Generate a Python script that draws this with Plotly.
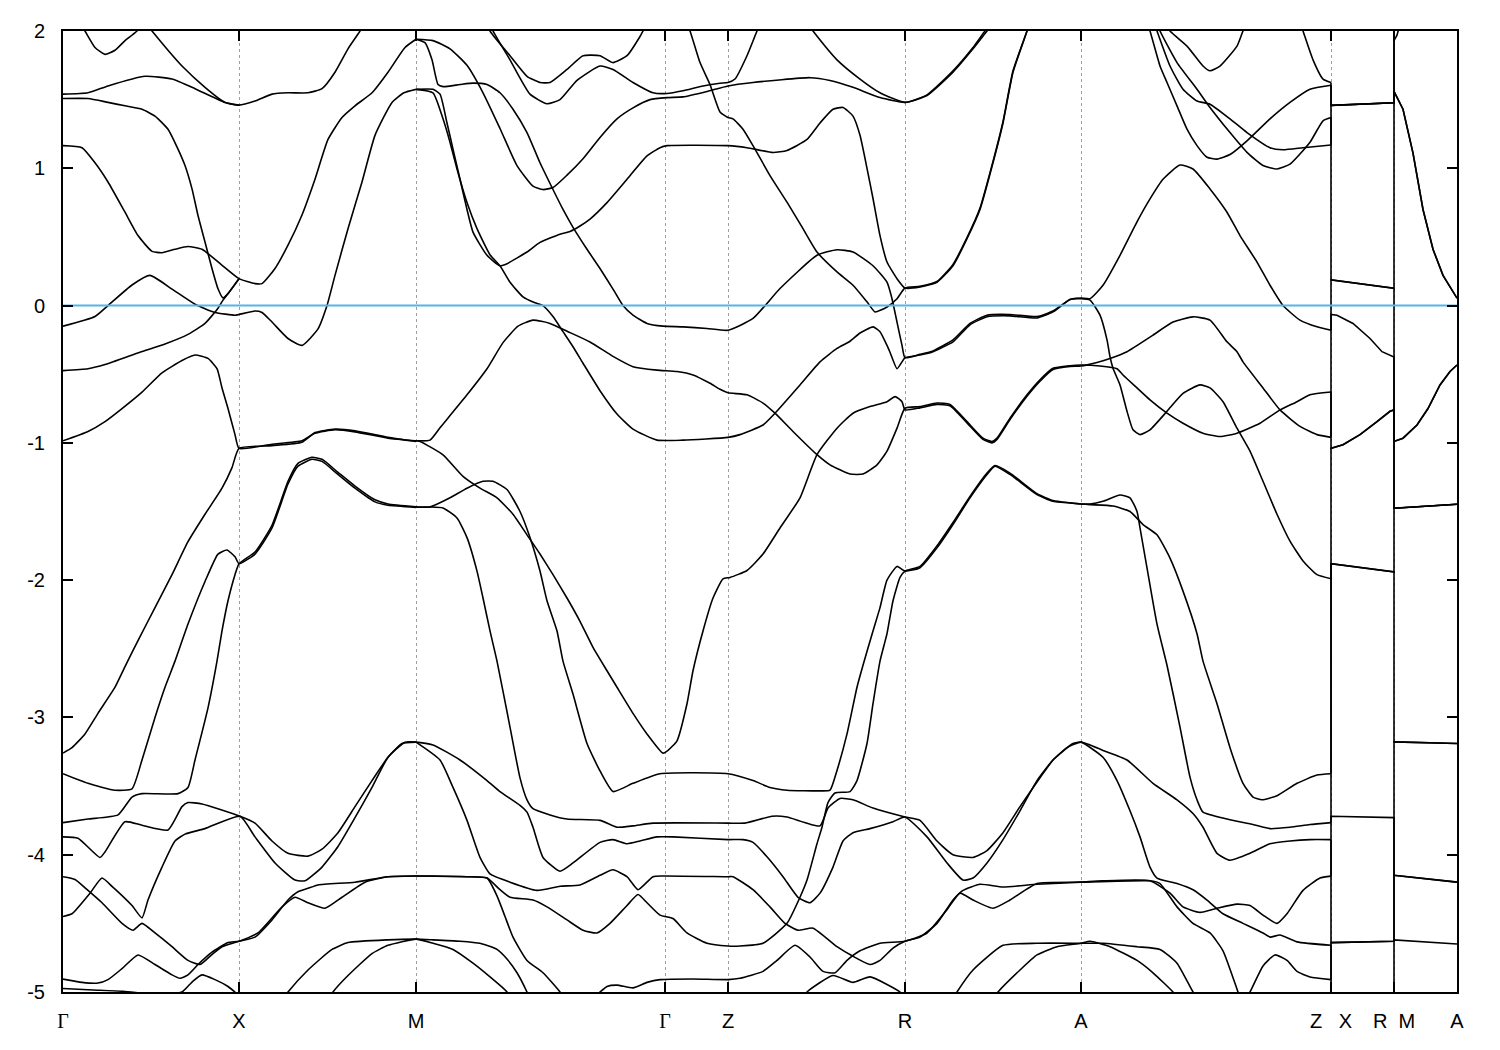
import plotly.graph_objects as go

# ---------------- k-path (path coordinate) and labels ----------------
GAMMA = "<span style='font-family:Liberation Serif, Times New Roman, serif'>Γ</span>"
k_ticks = [0, 176, 353, 602, 665, 842, 1018, 1268, 1331, 1394]
k_labels = [GAMMA, "X", "M", GAMMA, "Z", "R", "A", "Z\u00a0\u00a0\u00a0X", "R\u00a0\u00a0M", "A"]
e_ticks = [2, 1, 0, -1, -2, -3, -4, -5]
e_labels = ["2", "1", "0", "-1", "-2", "-3", "-4", "-5"]
e_fermi = 0.0

# ---------------- bands along Γ-X-M-Γ-Z-R-A-Z (k, E) ----------------
c01 = [(12,2.12),(22,2.0),(32,1.88),(42,1.83),(52,1.86),(62,1.93),(74,2.0),(84,2.1)]
c02 = [(80,2.08),(89,2.0),(105,1.86),(119,1.745),(142,1.59),(162,1.48),(176,1.46),(192,1.49),(209,1.54),(225,1.55),(245,1.55),(259,1.58),(272,1.70),(285,1.87),(297,2.0),(303,2.08)]
c03 = [(0,1.54),(25,1.55),(45,1.60),(82,1.67),(109,1.65),(132,1.58),(162,1.48),(176,1.46)]
c04 = [(0,1.508),(25,1.508),(45,1.48),(62,1.455),(79,1.43),(92,1.38),(105,1.285),(115,1.14),(122,1.02),(129,0.85),(135,0.656),(142,0.463),(149,0.27),(155,0.123),(160,0.056),(165,0.087),(176,0.196)]
c05 = [(0,1.165),(19,1.15),(32,1.04),(45,0.90),(62,0.68),(75,0.51),(89,0.395),(99,0.385),(112,0.41),(125,0.43),(139,0.41),(158,0.30),(176,0.196),(192,0.16),(199,0.16),(212,0.27),(225,0.44),(239,0.66),(252,0.92),(265,1.21),(279,1.37),(292,1.455),(309,1.55),(325,1.70),(342,1.88),(353,1.94)]
c06 = [(0,-0.15),(32,-0.08),(45,0.0),(69,0.15),(87,0.22),(109,0.12),(132,0.01),(152,-0.05),(172,-0.07),(176,-0.065),(192,-0.04),(199,-0.05),(209,-0.12),(225,-0.24),(239,-0.29),(255,-0.17),(264,0.0),(272,0.22),(285,0.56),(299,0.90),(312,1.24),(329,1.48),(341,1.55),(353,1.575)]
c07 = [(0,-0.474),(25,-0.46),(42,-0.43),(77,-0.34),(102,-0.28),(125,-0.21),(142,-0.13),(155,-0.02),(160,0.04),(165,0.087),(176,0.196)]
c08 = [(0,-0.985),(25,-0.917),(42,-0.845),(59,-0.75),(79,-0.63),(99,-0.49),(119,-0.40),(132,-0.36),(145,-0.385),(154,-0.46),(159,-0.60),(165,-0.75),(172,-0.94),(176,-1.04),(209,-1.01),(239,-0.985),(252,-0.93),(272,-0.905),(292,-0.92),(325,-0.966),(353,-0.985)]
c09 = [(0,-3.26),(9,-3.22),(22,-3.12),(35,-2.97),(52,-2.78),(62,-2.63),(75,-2.44),(92,-2.20),(109,-1.96),(125,-1.72),(142,-1.52),(159,-1.33),(169,-1.18),(176,-1.04),(209,-1.02),(239,-0.995),(252,-0.925),(272,-0.9),(292,-0.912),(325,-0.96),(353,-0.99)]
c10 = [(0,-3.41),(25,-3.48),(52,-3.53),(69,-3.52),(79,-3.31),(92,-3.0),(102,-2.78),(112,-2.59),(125,-2.32),(142,-2.01),(155,-1.81),(164,-1.78),(172,-1.83),(176,-1.88),(192,-1.81),(209,-1.62),(225,-1.30),(235,-1.17),(249,-1.12),(259,-1.135),(275,-1.23),(292,-1.33),(312,-1.43),(325,-1.455),(353,-1.47)]
c11 = [(0,-3.766),(25,-3.74),(55,-3.71),(69,-3.58),(79,-3.555),(115,-3.555),(125,-3.51),(132,-3.31),(145,-2.93),(154,-2.59),(159,-2.37),(165,-2.15),(172,-1.96),(176,-1.88),(192,-1.795),(209,-1.60),(225,-1.28),(235,-1.15),(249,-1.105),(259,-1.12),(275,-1.215),(292,-1.315),(312,-1.415),(325,-1.445),(353,-1.465)]
c12 = [(0,-3.87),(15,-3.88),(37,-4.02),(42,-3.98),(62,-3.76),(79,-3.785),(105,-3.82),(119,-3.65),(125,-3.62),(139,-3.63),(177,-3.72),(192,-3.77),(209,-3.90),(225,-3.99),(245,-4.01),(259,-3.96),(275,-3.84),(292,-3.65),(309,-3.46),(325,-3.29),(339,-3.19),(353,-3.18)]
c13 = [(0,-4.45),(9,-4.43),(27,-4.28),(39,-4.17),(49,-4.23),(69,-4.37),(79,-4.46),(85,-4.33),(99,-4.09),(112,-3.90),(122,-3.85),(142,-3.81),(177,-3.72),(192,-3.87),(212,-4.06),(232,-4.185),(242,-4.19),(259,-4.09),(275,-3.94),(292,-3.73),(309,-3.51),(325,-3.29),(342,-3.18),(353,-3.18)]
c14 = [(0,-4.16),(12,-4.18),(25,-4.26),(39,-4.35),(59,-4.50),(70,-4.55),(79,-4.50),(92,-4.57),(109,-4.67),(125,-4.77),(137,-4.80),(150,-4.72),(159,-4.67),(176,-4.63),(192,-4.60),(209,-4.475),(225,-4.33),(235,-4.27),(245,-4.245),(255,-4.22),(292,-4.20),(325,-4.16),(353,-4.155)]
c15 = [(0,-4.906),(19,-4.93),(35,-4.935),(45,-4.91),(59,-4.83),(75,-4.73),(92,-4.80),(109,-4.875),(117,-4.90),(125,-4.875),(135,-4.80),(149,-4.71),(165,-4.64),(176,-4.63),(195,-4.57),(219,-4.38),(232,-4.31),(245,-4.35),(262,-4.39),(279,-4.31),(302,-4.20),(325,-4.16),(353,-4.155)]
c16 = [(215,-5.1),(225,-5.0),(245,-4.84),(269,-4.69),(285,-4.64),(325,-4.62),(353,-4.615),(370,-4.62),(397,-4.63),(417,-4.645),(434,-4.69),(444,-4.76),(454,-4.86),(464,-5.0),(470,-5.1)]
c17 = [(262,-5.1),(270,-5.0),(285,-4.88),(309,-4.72),(325,-4.66),(353,-4.615),(370,-4.645),(390,-4.69),(410,-4.79),(427,-4.89),(444,-5.0),(450,-5.1)]
c18 = [(0,-4.975),(30,-4.985),(60,-4.995),(100,-5.02),(119,-5.0),(130,-4.92),(139,-4.875),(152,-4.91),(165,-4.96),(175,-5.02)]
c40 = [(353,-4.155),(404,-4.16),(424,-4.17),(434,-4.30),(442,-4.45),(450,-4.6),(464,-4.77),(480,-4.86),(497,-5.0),(505,-5.1)]

c19 = [(353,1.94),(362,1.915),(369,1.79),(375,1.61),(380,1.595),(397,1.61),(410,1.62),(424,1.61),(437,1.55),(450,1.43),(464,1.26),(477,1.04),(489,0.86),(500,0.70),(510,0.57),(524,0.41),(537,0.27),(550,0.12),(560,0.0),(570,-0.07),(584,-0.13),(600,-0.15),(620,-0.155),(644,-0.167),(665,-0.18),
       (690,-0.094),(717,0.124),(754,0.366),(774,0.407),(790,0.39),(810,0.29),(824,0.17),(829,0.05),(834,-0.12),(839,-0.29),(842,-0.38),
       (857,-0.355),(870,-0.33),(890,-0.25),(907,-0.13),(924,-0.07),(947,-0.065),(974,-0.08),(990,-0.04),(1007,0.045),(1018,0.05),
       (1027,0.04),(1037,-0.07),(1044,-0.25),(1047,-0.372),(1050,-0.457),(1057,-0.578),(1064,-0.77),(1070,-0.905),(1077,-0.94),(1087,-0.905),(1104,-0.77),(1120,-0.64),(1137,-0.578),(1147,-0.60),(1160,-0.70),(1174,-0.893),(1187,-1.06),(1200,-1.28),(1214,-1.52),(1227,-1.716),(1240,-1.86),(1254,-1.96),(1268,-1.99)]
c20 = [(353,1.94),(370,1.93),(387,1.87),(404,1.75),(420,1.55),(437,1.29),(454,1.02),(470,0.87),(480,0.845),(490,0.86),(504,0.95),(520,1.07),(537,1.225),(554,1.36),(570,1.44),(587,1.50),(604,1.515),(620,1.52),(644,1.56),(665,1.60),(690,1.625),(747,1.66),(767,1.64),(790,1.59),(817,1.515),(842,1.48),(864,1.53),(890,1.70),(910,1.87),(924,2.0),(935,2.1)]
c21 = [(353,1.575),(370,1.575),(377,1.54),(384,1.33),(390,1.14),(397,0.92),(404,0.70),(410,0.535),(424,0.366),(437,0.29),(444,0.305),(464,0.39),(477,0.46),(497,0.52),(507,0.54),(517,0.58),(527,0.63),(544,0.75),(564,0.92),(584,1.09),(597,1.15),(604,1.165),(665,1.165),(684,1.15),(710,1.115),(724,1.13),(744,1.21),(757,1.33),(770,1.43),(780,1.443),(790,1.38),(797,1.24),(804,1.0),(810,0.78),(817,0.51),(824,0.317),(834,0.196),(842,0.128),(857,0.136),(874,0.17),(890,0.29),(904,0.487),(917,0.70),(930,1.04),(940,1.33),(950,1.70),(964,2.0),(970,2.15)]
c22 = [(353,1.575),(370,1.55),(380,1.36),(387,1.19),(394,0.995),(404,0.75),(414,0.56),(427,0.37),(437,0.29),(447,0.17),(460,0.063),(472,0.02),(480,0.0),(490,-0.08),(500,-0.19),(510,-0.30),(520,-0.42),(537,-0.62),(554,-0.79),(570,-0.90),(594,-0.98),(620,-0.98),(665,-0.96),(677,-0.94),(700,-0.87),(712,-0.784),(737,-0.578),(757,-0.41),(774,-0.312),(787,-0.26),(797,-0.20),(810,-0.155),(817,-0.19),(824,-0.29),(827,-0.34),(834,-0.46),(839,-0.41),(842,-0.38),
       (857,-0.36),(870,-0.336),(890,-0.264),(907,-0.14),(924,-0.082),(947,-0.075),(974,-0.09),(990,-0.046),(1007,0.044),(1018,0.055),
       (1027,0.05),(1040,0.148),(1057,0.366),(1074,0.61),(1087,0.777),(1100,0.92),(1117,1.024),(1130,0.995),(1147,0.85),(1164,0.68),(1177,0.51),(1194,0.317),(1207,0.148),(1220,0.0),(1237,-0.106),(1254,-0.155),(1268,-0.18)]
c23 = [(425,2.1),(430,2.0),(447,1.79),(467,1.54),(484,1.47),(497,1.50),(514,1.64),(537,1.745),(550,1.72),(570,1.625),(590,1.55),(604,1.545),(620,1.565),(640,1.60),(657,1.62),(665,1.625),(672,1.65),(684,1.82),(694,2.0),(700,2.1)]
c24 = [(422,2.1),(427,2.0),(447,1.82),(464,1.67),(477,1.625),(487,1.625),(504,1.72),(520,1.82),(537,1.82),(550,1.77),(564,1.82),(577,1.96),(580,2.0),(585,2.08)]
c25 = [(622,2.08),(627,2.0),(637,1.77),(647,1.61),(657,1.41),(665,1.37),(670,1.36),(680,1.285),(690,1.165),(707,0.947),(724,0.753),(740,0.56),(754,0.39),(774,0.245),(790,0.148),(804,0.027),(812,-0.046),(824,-0.01),(834,0.05),(842,0.128),(857,0.14),(874,0.175),(890,0.30),(904,0.495),(917,0.71),(930,1.05),(940,1.34),(950,1.71),(964,2.0),(970,2.15)]
c26 = [(353,-0.985),(367,-0.98),(377,-0.89),(404,-0.65),(424,-0.46),(440,-0.27),(455,-0.15),(470,-0.106),(487,-0.13),(505,-0.19),(527,-0.265),(550,-0.37),(570,-0.445),(594,-0.47),(614,-0.48),(630,-0.505),(647,-0.566),(657,-0.61),(665,-0.635),(684,-0.65),(700,-0.71),(712,-0.784),(730,-0.917),(754,-1.086),(767,-1.16),(787,-1.227),(800,-1.227),(814,-1.16),(824,-1.06),(834,-0.893),(842,-0.748),
       (857,-0.736),(874,-0.71),(887,-0.72),(904,-0.845),(920,-0.966),(929,-0.99),(934,-0.966),(947,-0.82),(964,-0.65),(977,-0.54),(990,-0.457),(1007,-0.438),(1018,-0.433),
       (1037,-0.44),(1054,-0.46),(1060,-0.506),(1074,-0.60),(1087,-0.687),(1104,-0.784),(1120,-0.857),(1140,-0.93),(1157,-0.954),(1174,-0.93),(1197,-0.857),(1217,-0.76),(1234,-0.70),(1247,-0.65),(1268,-0.63)]
c27 = [(353,-0.985),(357,-0.99),(380,-1.087),(400,-1.244),(417,-1.33),(434,-1.40),(450,-1.52),(464,-1.67),(477,-1.81),(490,-1.96),(504,-2.13),(517,-2.30),(530,-2.49),(544,-2.66),(554,-2.78),(570,-2.97),(584,-3.12),(600,-3.26),(605,-3.24),(614,-3.17),(624,-2.90),(630,-2.66),(640,-2.37),(650,-2.13),(660,-1.99),(667,-1.98),(684,-1.93),(700,-1.81),(717,-1.62),(737,-1.40),(754,-1.086),(774,-0.893),(790,-0.784),(807,-0.736),(824,-0.70),(832,-0.663),(839,-0.70),(842,-0.76),
       (857,-0.745),(874,-0.72),(887,-0.73),(904,-0.855),(920,-0.975),(929,-1.0),(934,-0.975),(947,-0.83),(964,-0.66),(977,-0.55),(990,-0.465),(1007,-0.443),(1018,-0.44),
       (1034,-0.414),(1047,-0.385),(1064,-0.336),(1090,-0.215),(1110,-0.12),(1130,-0.082),(1147,-0.106),(1164,-0.264),(1174,-0.336),(1180,-0.41),(1200,-0.60),(1217,-0.76),(1237,-0.88),(1254,-0.94),(1268,-0.96)]
c28 = [(353,-1.467),(367,-1.467),(380,-1.474),(394,-1.547),(404,-1.69),(414,-1.934),(420,-2.13),(427,-2.37),(434,-2.59),(447,-3.07),(457,-3.44),(464,-3.60),(470,-3.665),(487,-3.71),(504,-3.74),(537,-3.75),(554,-3.80),(570,-3.79),(590,-3.77),(665,-3.77),(682,-3.77),(709,-3.72),(724,-3.725),(757,-3.79),(765,-3.66),(777,-3.59),(790,-3.60),(810,-3.66),(842,-3.725),
       (857,-3.75),(874,-3.90),(890,-4.0),(910,-4.02),(924,-3.97),(940,-3.84),(957,-3.65),(977,-3.44),(990,-3.31),(1004,-3.22),(1018,-3.18),
       (1040,-3.24),(1064,-3.31),(1090,-3.48),(1114,-3.60),(1130,-3.70),(1140,-3.80),(1154,-3.99),(1167,-4.04),(1187,-3.99),(1207,-3.92),(1227,-3.90),(1247,-3.89),(1268,-3.89)]
c29 = [(353,-1.467),(367,-1.467),(387,-1.40),(404,-1.33),(420,-1.28),(430,-1.28),(444,-1.34),(457,-1.50),(467,-1.69),(477,-1.934),(484,-2.15),(494,-2.37),(500,-2.59),(510,-2.83),(524,-3.19),(537,-3.39),(550,-3.54),(570,-3.48),(597,-3.41),(665,-3.41),(690,-3.46),(707,-3.51),(724,-3.53),(757,-3.535),(767,-3.53),(774,-3.386),(784,-3.12),(794,-2.78),(800,-2.62),(810,-2.37),(817,-2.2),(824,-2.0),(834,-1.90),(842,-1.934),
       (857,-1.91),(874,-1.765),(890,-1.595),(907,-1.40),(924,-1.23),(932,-1.17),(947,-1.23),(974,-1.377),(990,-1.426),(1018,-1.445),
       (1027,-1.45),(1050,-1.46),(1067,-1.50),(1080,-1.595),(1094,-1.67),(1107,-1.84),(1120,-2.08),(1134,-2.39),(1140,-2.59),(1154,-2.90),(1167,-3.22),(1180,-3.48),(1190,-3.58),(1199,-3.60),(1214,-3.57),(1234,-3.48),(1254,-3.42),(1268,-3.41)]
c30 = [(353,-4.155),(370,-4.155),(404,-4.16),(424,-4.17),(437,-4.255),(447,-4.31),(470,-4.33),(484,-4.38),(504,-4.475),(520,-4.55),(534,-4.57),(547,-4.50),(564,-4.37),(575,-4.29),(584,-4.35),(597,-4.44),(610,-4.465),(624,-4.57),(644,-4.645),(665,-4.665),(677,-4.665),(700,-4.645),(724,-4.50),(737,-4.31),(744,-4.185),(754,-3.92),(759,-3.80),(765,-3.62),(772,-3.55),(787,-3.54),(794,-3.46),(804,-3.19),(810,-2.90),(817,-2.59),(824,-2.39),(830,-2.15),(837,-1.98),(842,-1.934),
       (857,-1.90),(874,-1.75),(890,-1.58),(907,-1.39),(924,-1.22),(932,-1.165),(947,-1.22),(974,-1.37),(990,-1.42),(1018,-1.445),
       (1027,-1.445),(1040,-1.426),(1057,-1.38),(1067,-1.40),(1074,-1.50),(1077,-1.62),(1084,-1.91),(1094,-2.32),(1104,-2.62),(1117,-3.07),(1127,-3.435),(1134,-3.60),(1140,-3.69),(1164,-3.74),(1190,-3.78),(1207,-3.81),(1227,-3.80),(1247,-3.78),(1268,-3.766)]
c31 = [(353,-3.18),(370,-3.20),(397,-3.31),(424,-3.46),(437,-3.54),(457,-3.64),(464,-3.69),(470,-3.80),(480,-4.02),(497,-4.12),(510,-4.06),(537,-3.91),(550,-3.89),(564,-3.92),(577,-3.90),(594,-3.87),(610,-3.87),(665,-3.89),(680,-3.89),(690,-3.91),(704,-4.015),(720,-4.16),(735,-4.31),(747,-4.35),(757,-4.28),(770,-4.09),(780,-3.90),(790,-3.84),(807,-3.81),(830,-3.76),(842,-3.725),
       (864,-3.87),(884,-4.06),(900,-4.185),(910,-4.17),(924,-4.06),(940,-3.89),(957,-3.68),(974,-3.46),(990,-3.31),(1010,-3.19),(1018,-3.18),
       (1040,-3.29),(1054,-3.46),(1067,-3.68),(1077,-3.87),(1087,-4.09),(1094,-4.17),(1114,-4.21),(1130,-4.255),(1144,-4.33),(1160,-4.43),(1180,-4.50),(1200,-4.57),(1207,-4.60),(1217,-4.585),(1234,-4.635),(1268,-4.66)]
c32 = [(353,-3.18),(377,-3.31),(390,-3.51),(404,-3.75),(417,-4.02),(427,-4.14),(447,-4.20),(474,-4.26),(497,-4.23),(517,-4.22),(537,-4.15),(550,-4.11),(564,-4.16),(575,-4.255),(590,-4.16),(600,-4.155),(665,-4.16),(670,-4.16),(690,-4.255),(707,-4.38),(722,-4.50),(735,-4.55),(750,-4.535),(774,-4.67),(790,-4.74),(807,-4.80),(817,-4.77),(830,-4.68),(842,-4.63),
       (857,-4.60),(874,-4.50),(890,-4.33),(900,-4.26),(917,-4.215),(940,-4.235),(974,-4.215),(1018,-4.20),
       (1040,-4.19),(1087,-4.19),(1107,-4.28),(1120,-4.38),(1137,-4.42),(1154,-4.39),(1174,-4.36),(1187,-4.37),(1200,-4.44),(1214,-4.50),(1224,-4.43),(1240,-4.26),(1257,-4.17),(1268,-4.156)]
c34 = [(534,-5.02),(544,-4.96),(554,-4.95),(570,-4.97),(584,-4.93),(597,-4.91),(630,-4.905),(665,-4.91),(677,-4.90),(700,-4.85),(714,-4.77),(732,-4.66),(747,-4.745),(760,-4.85),(772,-4.86),(784,-4.77),(797,-4.70),(817,-4.645),(842,-4.63),
       (864,-4.57),(884,-4.40),(897,-4.28),(910,-4.33),(930,-4.39),(947,-4.33),(974,-4.21),(1018,-4.20),
       (1087,-4.19),(1097,-4.21),(1114,-4.38),(1130,-4.50),(1147,-4.57),(1160,-4.70),(1175,-5.0),(1180,-5.1)]
c35 = [(740,-5.05),(744,-5.0),(770,-4.88),(790,-4.93),(807,-4.89),(837,-5.0),(842,-5.05)]
c37 = [(890,-5.05),(894,-5.0),(910,-4.84),(940,-4.66),(974,-4.645),(1018,-4.645),(1040,-4.645),(1074,-4.67),(1097,-4.69),(1114,-4.79),(1130,-5.0),(1135,-5.05)]
c38 = [(930,-5.05),(935,-5.0),(957,-4.84),(974,-4.73),(994,-4.67),(1018,-4.645),(1027,-4.63),(1047,-4.67),(1074,-4.77),(1090,-4.86),(1110,-5.0),(1115,-5.05)]
c39 = [(1182,-5.05),(1187,-5.0),(1200,-4.81),(1212,-4.73),(1224,-4.77),(1234,-4.85),(1247,-4.89),(1268,-4.91)]
c41 = [(745,2.05),(750,2.0),(774,1.79),(797,1.65),(817,1.55),(842,1.48),(864,1.535),(890,1.71),(910,1.88),(922,2.0),(928,2.05)]
c42 = [(1082,2.1),(1087,2.0),(1097,1.745),(1104,1.625),(1114,1.455),(1124,1.285),(1134,1.165),(1144,1.08),(1154,1.067),(1167,1.10),(1184,1.20),(1207,1.36),(1227,1.48),(1247,1.576),(1268,1.605)]
c43 = [(1090,2.08),(1094,2.0),(1107,1.745),(1120,1.576),(1134,1.49),(1147,1.467),(1167,1.36),(1184,1.26),(1207,1.15),(1220,1.135),(1240,1.15),(1268,1.17)]
c44 = [(1093,2.08),(1097,2.0),(1114,1.77),(1134,1.576),(1147,1.443),(1167,1.26),(1184,1.116),(1200,1.02),(1214,0.995),(1227,1.03),(1247,1.19),(1260,1.346),(1268,1.37)]
c45 = [(1103,2.05),(1107,2.0),(1124,1.89),(1140,1.745),(1147,1.71),(1157,1.745),(1174,1.89),(1180,2.0),(1184,2.05)]
c46 = [(1236,2.08),(1240,2.0),(1250,1.79),(1260,1.65),(1268,1.625)]

main_bands = [c01, c02, c03, c04, c05, c06, c07, c08, c09, c10, c11, c12, c13, c14, c15,
              c16, c17, c18, c40, c19, c20, c21, c22, c23, c24, c25, c26, c27, c28, c29,
              c30, c31, c32, c34, c35, c37, c38, c39, c41, c42, c43, c44, c45, c46]

# ---------------- short X-R and M-A segments after the path breaks ----------------
xr_a = [(1268,1.458),(1331,1.477)]
xr_b = [(1268,0.187),(1331,0.126)]
xr_c = [(1268,-0.065),(1274,-0.07),(1290,-0.13),(1307,-0.24),(1319,-0.336),(1331,-0.375)]
xr_d = [(1268,-1.04),(1280,-1.014),(1297,-0.94),(1314,-0.845),(1327,-0.77),(1331,-0.76)]
xr_e = [(1268,-1.88),(1331,-1.94)]
xr_f = [(1268,-3.72),(1331,-3.73)]
xr_g = [(1268,-4.64),(1331,-4.63)]
xr_h = [(1268,-5.4),(1331,-5.4)]
ma_0 = [(1331,2.6),(1394,2.6)]
ma_1 = [(1331,1.93),(1334,1.97),(1337,2.05),(1345,2.3)]
ma_2 = [(1331,1.56),(1340,1.43),(1350,1.11),(1360,0.70),(1370,0.41),(1380,0.22),(1394,0.054)]
ma_3 = [(1331,-0.99),(1340,-0.966),(1354,-0.87),(1365,-0.75),(1377,-0.578),(1387,-0.48),(1394,-0.433)]
ma_4 = [(1331,-1.476),(1394,-1.447)]
ma_5 = [(1331,-3.178),(1394,-3.19)]
ma_6 = [(1331,-4.15),(1394,-4.20)]
ma_7 = [(1331,-4.62),(1394,-4.65)]

tail_Ez = [1.625, 1.605, 1.37, 1.17, -0.18, -0.63, -0.96, -1.99, -3.41, -3.766, -3.89, -4.156, -4.66, -4.91]
tail_xr = [xr_a, xr_a, xr_b, xr_a, xr_b, xr_d, xr_c, xr_d, xr_e, xr_e, xr_g, xr_f, xr_h, xr_g]
tail_ma = [ma_0, ma_1, ma_2, ma_2, ma_3, ma_4, ma_3, ma_4, ma_4, ma_5, ma_6, ma_6, ma_7, ma_5]
k_break = 1268

# ---------------- figure ----------------
fig = go.Figure()
band_line = dict(color="black", width=1.6)

for band in main_bands:
    fig.add_trace(go.Scatter(x=[p[0] for p in band], y=[p[1] for p in band], mode="lines",
                             line=dict(color="black", width=1.6, shape="spline", smoothing=0.5),
                             hoverinfo="skip", showlegend=False))

for ez, xr, ma in zip(tail_Ez, tail_xr, tail_ma):
    pts = [(k_break, ez)] + xr + ma
    fig.add_trace(go.Scatter(x=[p[0] for p in pts], y=[p[1] for p in pts], mode="lines",
                             line=band_line, hoverinfo="skip", showlegend=False))

fig.add_trace(go.Scatter(x=[k_ticks[0], k_ticks[-1]], y=[e_fermi, e_fermi], mode="lines",
                         line=dict(color="#56B4E9", width=2), hoverinfo="skip", showlegend=False))

font_main = dict(family="Liberation Sans, Arial, sans-serif", size=20, color="black")

# the page body has an 8 px margin, so the figure is drawn slightly smaller
fig.update_layout(
    width=1492, height=1042,
    margin=dict(l=55, r=43, t=20, b=58),
    paper_bgcolor="white", plot_bgcolor="white",
    font=font_main,
    showlegend=False,
)
fig.update_xaxes(
    range=[k_ticks[0], k_ticks[-1]],
    tickmode="array", tickvals=k_ticks, ticktext=k_labels,
    ticks="inside", ticklen=10, tickwidth=1.5, tickcolor="black",
    showline=True, linecolor="black", linewidth=2, mirror="ticks",
    showgrid=True, gridcolor="#a0a0a0", gridwidth=1, griddash="3px,3px",
    zeroline=False, tickfont=font_main, ticklabelstandoff=10,
)
fig.update_yaxes(
    range=[-5, 2],
    tickmode="array", tickvals=e_ticks, ticktext=e_labels,
    ticks="inside", ticklen=10, tickwidth=1.5, tickcolor="black",
    showline=True, linecolor="black", linewidth=2, mirror="ticks",
    showgrid=False, zeroline=False, tickfont=font_main, ticklabelstandoff=12,
)

fig.write_html("out.html")
